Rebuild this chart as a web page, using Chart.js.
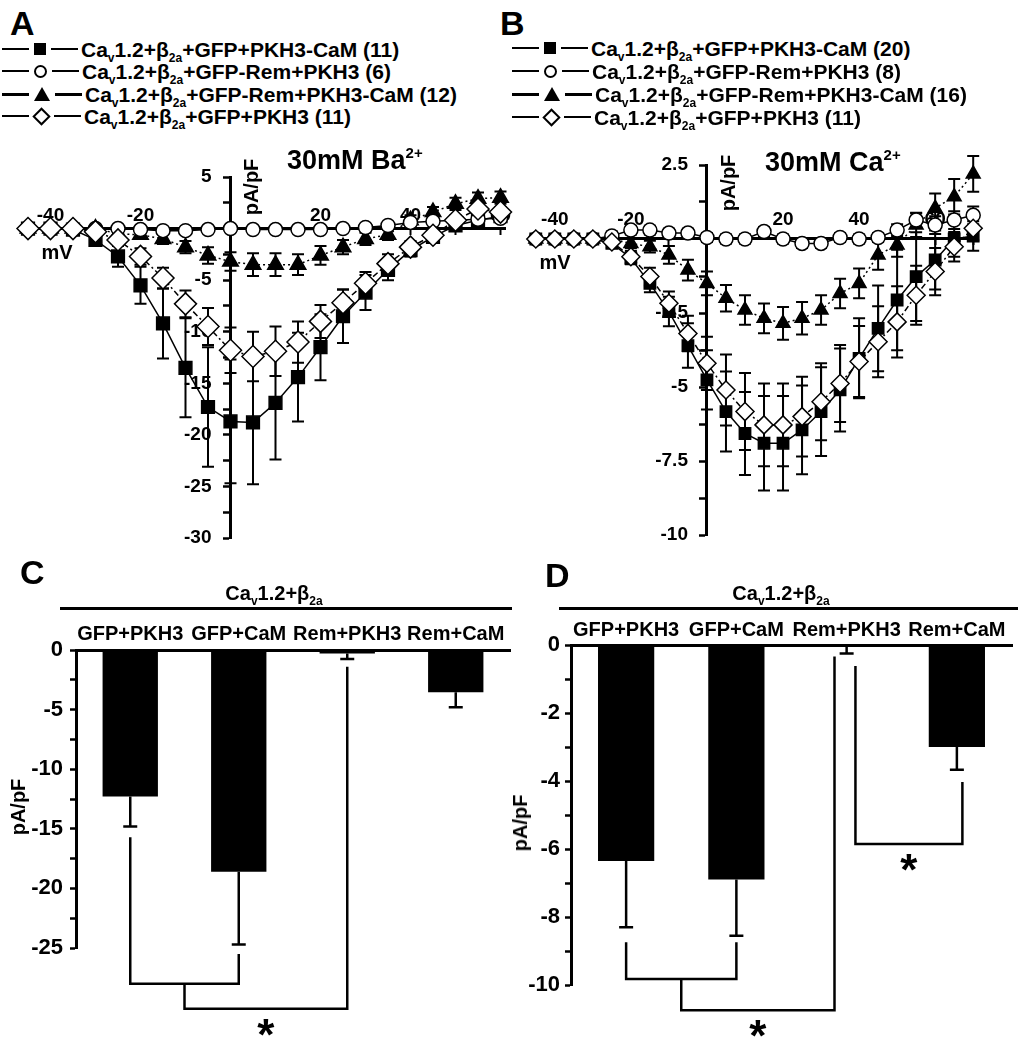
<!DOCTYPE html>
<html>
<head>
<meta charset="utf-8">
<title>Cav1.2 currents</title>
<script src="https://cdn.jsdelivr.net/npm/chart.js@4.4.1/dist/chart.umd.min.js"></script>
<style>
  body { margin: 0; background: #fff; }
  #fig { position: relative; width: 1023px; height: 1050px; overflow: hidden;
         font-family: "Liberation Sans", Arial, sans-serif; font-weight: bold; color: #000; }
  #fig canvas { position: absolute; }
  .t { position: absolute; white-space: nowrap; line-height: 1; }
  .letter { font-size: 34px; }
  .rot { transform: translate(-50%, -50%) rotate(-90deg); font-size: 20px; }
  .mv { transform: translate(-50%, -50%); font-size: 20px; }
  .leg { position: absolute; height: 22px; display: flex; align-items: center; font-size: 21px; white-space: nowrap; line-height: 1; }
  .leg .ln { width: 27px; height: 2px; background: #000; }
  .leg .ln.thick { height: 3px; }
  .leg .mk { margin: 0 5px; }
  .leg .txt { margin-left: 3px; }
  sub { font-size: 12px; vertical-align: -5px; line-height: 0; }
  sup { font-size: 15px; vertical-align: 11px; line-height: 0; }
  .sq { width: 12px; height: 12px; background: #000; }
  .ci { width: 13px; height: 13px; border: 2px solid #000; border-radius: 50%; box-sizing: border-box; }
  .tr { width: 0; height: 0; border-left: 8px solid transparent; border-right: 8px solid transparent; border-bottom: 14px solid #000; }
  .di { width: 13px; height: 13px; border: 2px solid #000; box-sizing: border-box; transform: rotate(45deg); }
  .leg .mk.di { margin: 0 6px; }
  .hl { position: absolute; height: 3px; background: #000; }
  .grp { transform: translateX(-50%); font-size: 20px; }
</style>
</head>
<body>
<div id="fig">
  <canvas id="cA" width="520" height="420" style="left:0;top:140px"></canvas>
  <canvas id="cB" width="508" height="420" style="left:515px;top:140px"></canvas>
  <canvas id="cC" width="520" height="490" style="left:0;top:560px"></canvas>
  <canvas id="cD" width="508" height="490" style="left:515px;top:560px"></canvas>

  <div class="t letter" style="left:10px;top:6px">A</div>
  <div class="t letter" style="left:500px;top:6px">B</div>
  <div class="t letter" style="left:20px;top:555px">C</div>
  <div class="t letter" style="left:545px;top:558px">D</div>

  <div class="leg" style="left:2px;top:38px"><div class="ln"></div><div class="mk sq"></div><div class="ln"></div><span class="txt">Ca<sub>v</sub>1.2+β<sub>2a</sub>+GFP+PKH3-CaM (11)</span></div>
  <div class="leg" style="left:2px;top:60px"><div class="ln"></div><div class="mk ci"></div><div class="ln"></div><span class="txt">Ca<sub>v</sub>1.2+β<sub>2a</sub>+GFP-Rem+PKH3 (6)</span></div>
  <div class="leg" style="left:2px;top:83px"><div class="ln thick"></div><div class="mk tr"></div><div class="ln thick"></div><span class="txt">Ca<sub>v</sub>1.2+β<sub>2a</sub>+GFP-Rem+PKH3-CaM (12)</span></div>
  <div class="leg" style="left:2px;top:105px"><div class="ln"></div><div class="mk di"></div><div class="ln"></div><span class="txt">Ca<sub>v</sub>1.2+β<sub>2a</sub>+GFP+PKH3 (11)</span></div>

  <div class="leg" style="left:512px;top:37px"><div class="ln"></div><div class="mk sq"></div><div class="ln"></div><span class="txt">Ca<sub>v</sub>1.2+β<sub>2a</sub>+GFP+PKH3-CaM (20)</span></div>
  <div class="leg" style="left:512px;top:60px"><div class="ln"></div><div class="mk ci"></div><div class="ln"></div><span class="txt">Ca<sub>v</sub>1.2+β<sub>2a</sub>+GFP-Rem+PKH3 (8)</span></div>
  <div class="leg" style="left:512px;top:83px"><div class="ln thick"></div><div class="mk tr"></div><div class="ln thick"></div><span class="txt">Ca<sub>v</sub>1.2+β<sub>2a</sub>+GFP-Rem+PKH3-CaM (16)</span></div>
  <div class="leg" style="left:512px;top:106px"><div class="ln"></div><div class="mk di"></div><div class="ln"></div><span class="txt">Ca<sub>v</sub>1.2+β<sub>2a</sub>+GFP+PKH3 (11)</span></div>

  <div class="t" style="left:287px;top:147px;font-size:27px">30mM Ba<sup>2+</sup></div>
  <div class="t" style="left:765px;top:149px;font-size:27px">30mM Ca<sup>2+</sup></div>
  <div class="t rot" style="left:251px;top:187px">pA/pF</div>
  <div class="t rot" style="left:728px;top:183px">pA/pF</div>
  <div class="t mv" style="left:57px;top:252px">mV</div>
  <div class="t mv" style="left:555px;top:262px">mV</div>

  <div class="t grp" style="left:274px;top:583px">Ca<sub>v</sub>1.2+β<sub>2a</sub></div>
  <div class="t grp" style="left:781px;top:583px">Ca<sub>v</sub>1.2+β<sub>2a</sub></div>
  <div class="hl" style="left:60px;top:607px;width:452px"></div>
  <div class="hl" style="left:559px;top:607px;width:459px"></div>
  <div class="t rot" style="left:18px;top:807px">pA/pF</div>
  <div class="t rot" style="left:520px;top:823px">pA/pF</div>
</div>

<script>
// ---- panel A : 30 mM Ba2+ (mV vs pA/pF) ----
const A_volt = [-45, -40, -35, -30, -25, -20, -15, -10, -5, 0, 5, 10, 15, 20, 25, 30, 35, 40, 45, 50, 55, 60];
const A_sq     = [0, 0, -0.1, -1.1, -2.7, -5.5, -9.2, -13.5, -17.3, -18.7, -18.8, -16.9, -14.4, -11.5, -8.5, -6.2, -4.0, -2.1, -0.8, 0.3, 0.8, 1.2];
const A_sqErr  = [0.2, 0.2, 0.3, 0.5, 1.0, 1.8, 3.4, 4.8, 5.8, 6.0, 6.0, 5.5, 4.3, 3.2, 2.6, 1.7, 1.0, 0.6, 0.5, 0.5, 0.5, 0.5];
const A_cir    = [0, 0, 0, 0, 0, -0.1, -0.2, -0.2, -0.1, 0, -0.1, -0.1, -0.1, -0.1, 0, 0.1, 0.3, 0.6, 0.7, 0.8, 0.9, 1.0];
const A_cirErr = [0.3, 0.3, 0.3, 0.3, 0.3, 0.3, 0.3, 0.3, 0.3, 0.3, 0.3, 0.3, 0.3, 0.3, 0.3, 0.3, 0.3, 0.3, 0.3, 0.3, 0.3, 0.3];
const A_tri    = [0, 0, 0, 0, -0.5, -0.6, -1.0, -1.8, -2.6, -3.2, -3.5, -3.5, -3.5, -2.6, -1.8, -1.0, -0.6, 0.8, 1.6, 2.4, 2.9, 3.0];
const A_triErr = [0.1, 0.1, 0.2, 0.2, 0.3, 0.4, 0.5, 0.6, 0.8, 0.9, 1.1, 1.1, 1.0, 0.9, 0.7, 0.6, 0.5, 0.5, 0.5, 0.6, 0.6, 0.6];
const A_dia    = [0, 0, 0, -0.3, -1.1, -2.7, -4.8, -7.3, -9.5, -11.8, -12.4, -11.9, -11.0, -9.0, -7.2, -5.3, -3.4, -1.8, -0.65, 0.8, 1.9, 1.6];
const A_diaErr = [0.2, 0.2, 0.2, 0.3, 0.5, 0.8, 1.0, 1.3, 1.8, 2.2, 2.4, 2.4, 2.0, 1.6, 1.3, 1.1, 0.9, 0.6, 0.5, 0.5, 0.5, 0.5];

// ---- panel B : 30 mM Ca2+ ----
const B_volt = [-45, -40, -35, -30, -25, -20, -15, -10, -5, 0, 5, 10, 15, 20, 25, 30, 35, 40, 45, 50, 55, 60, 65, 70];
const B_sq     = [0, 0, 0, 0, -0.15, -0.65, -1.5, -2.45, -3.6, -4.76, -5.83, -6.57, -6.9, -6.9, -6.45, -5.83, -5.1, -4.03, -3.02, -2.06, -1.27, -0.71, 0, 0.1];
const B_sqErr  = [0.1, 0.1, 0.1, 0.1, 0.15, 0.2, 0.3, 0.5, 0.75, 1.0, 1.35, 1.4, 1.6, 1.6, 1.5, 1.5, 1.4, 1.35, 1.45, 1.7, 1.5, 1.0, 0.6, 0.5];
const B_cir    = [0, 0, 0, 0, 0.1, 0.3, 0.3, 0.2, 0.2, 0.05, 0, 0, 0.25, 0, -0.15, -0.15, 0.05, 0, 0.05, 0.3, 0.64, 0.47, 0.64, 0.8];
const B_cirErr = [0.15, 0.15, 0.15, 0.15, 0.15, 0.15, 0.15, 0.15, 0.15, 0.15, 0.15, 0.15, 0.15, 0.15, 0.15, 0.15, 0.15, 0.15, 0.15, 0.2, 0.25, 0.3, 0.3, 0.3];
const B_tri    = [0, 0, 0, 0, 0, -0.15, -0.26, -0.54, -1.05, -1.5, -2.0, -2.4, -2.68, -2.85, -2.68, -2.4, -1.84, -1.5, -0.54, -0.2, 0.47, 1.04, 1.43, 2.2];
const B_triErr = [0.1, 0.1, 0.1, 0.1, 0.1, 0.15, 0.2, 0.3, 0.35, 0.4, 0.45, 0.5, 0.5, 0.55, 0.55, 0.5, 0.5, 0.5, 0.5, 0.4, 0.4, 0.5, 0.6, 0.6];
const B_dia    = [0, 0, 0, 0, -0.1, -0.6, -1.27, -2.17, -3.19, -4.2, -5.1, -5.83, -6.28, -6.28, -6.0, -5.5, -4.88, -4.14, -3.47, -2.8, -1.9, -1.1, -0.26, 0.36];
const B_diaErr = [0.1, 0.1, 0.1, 0.1, 0.15, 0.2, 0.3, 0.4, 0.6, 0.9, 1.2, 1.3, 1.4, 1.4, 1.35, 1.3, 1.3, 1.2, 1.2, 1.2, 1.0, 0.8, 0.5, 0.4];

// ---- panels C / D : peak current bars ----
const groups = ['GFP+PKH3', 'GFP+CaM', 'Rem+PKH3', 'Rem+CaM'];
const C_val = [-12.3, -18.6, -0.3, -3.55];
const C_err = [2.5, 6.1, 0.45, 1.25];
const D_val = [-6.35, -6.9, -0.05, -3.0];
const D_err = [1.95, 1.65, 0.2, 0.67];
// significance brackets (x in category index, y in pA/pF)
const C_brackets = [
  { from: 0, to: 1, fromTop: -15.7, toTop: -25.5, level: -28 },
  { from: 0.5, to: 2, fromTop: -28, toTop: -1.4, level: -30.1, star: true }
];
const D_brackets = [
  { from: 0, to: 1, fromTop: -8.74, toTop: -8.74, level: -9.82 },
  { from: 0.5, to: 1.89, fromTop: -9.82, toTop: -0.34, level: -10.74, star: true },
  { from: 2.08, to: 3.05, fromTop: -0.62, toTop: -4.03, level: -5.85, star: true }
];

Chart.defaults.font.family = '"Liberation Sans", Arial, sans-serif';
Chart.defaults.font.weight = 'bold';
Chart.defaults.color = '#000';

// vertical SEM bars, under the markers for IV plots, over the bars for bar plots
function drawErrors(chart) {
  const ctx = chart.ctx, ys = chart.scales.y;
  ctx.save();
  ctx.strokeStyle = '#000';
  chart.data.datasets.forEach((ds, i) => {
    if (!ds.errors) return;
    const meta = chart.getDatasetMeta(i);
    ctx.lineWidth = ds.errWidth || 2;
    const cap = ds.capWidth || 5;
    meta.data.forEach((el, j) => {
      const d = ds.data[j];
      const v = typeof d === 'object' ? d.y : d;
      const e = ds.errors[j];
      const x = el.x;
      const lo = ys.getPixelForValue(v - e);
      const hi = ys.getPixelForValue(ds.downOnly ? v : v + e);
      ctx.beginPath();
      ctx.moveTo(x, hi); ctx.lineTo(x, lo);
      ctx.moveTo(x - cap, lo); ctx.lineTo(x + cap, lo);
      if (!ds.downOnly) { ctx.moveTo(x - cap, hi); ctx.lineTo(x + cap, hi); }
      ctx.stroke();
    });
  });
  ctx.restore();
}
const errorBars = {
  id: 'errorBars',
  beforeDatasetsDraw(chart) { if (chart.config.type === 'line') drawErrors(chart); },
  afterDatasetsDraw(chart) { if (chart.config.type === 'bar') drawErrors(chart); }
};

const brackets = {
  id: 'brackets',
  afterDatasetsDraw(chart, args, opts) {
    const items = opts.items || [];
    const xs = chart.scales.x, ys = chart.scales.y, ctx = chart.ctx;
    ctx.save();
    ctx.lineWidth = 2.5;
    ctx.strokeStyle = '#000';
    ctx.fillStyle = '#000';
    items.forEach(b => {
      const x1 = xs.getPixelForValue(b.from), x2 = xs.getPixelForValue(b.to);
      const yb = ys.getPixelForValue(b.level);
      ctx.beginPath();
      ctx.moveTo(x1, ys.getPixelForValue(b.fromTop));
      ctx.lineTo(x1, yb);
      ctx.lineTo(x2, yb);
      ctx.lineTo(x2, ys.getPixelForValue(b.toTop));
      ctx.stroke();
      if (b.star) {
        ctx.font = 'bold 44px "Liberation Sans"';
        ctx.textAlign = 'center';
        ctx.textBaseline = 'alphabetic';
        ctx.fillText('*', (x1 + x2) / 2, yb + 41);
      }
    });
    ctx.restore();
  }
};

function series(volt, vals, errs, style, big) {
  const s = {
    sq:  { pointStyle: 'rect', bg: '#000', r: big ? 9 : 8, dash: [] },
    cir: { pointStyle: 'circle', bg: '#fff', r: 7, dash: [] },
    tri: { pointStyle: 'triangle', bg: '#000', r: big ? 9 : 8, dash: [2, 3] },
    dia: { pointStyle: 'rectRot', bg: '#fff', r: big ? 11 : 9, dash: [6, 3, 2, 3] }
  }[style];
  return {
    data: volt.map((v, i) => ({ x: v, y: vals[i] })),
    errors: errs,
    capWidth: 6,
    errWidth: 2,
    showLine: true,
    borderColor: '#000',
    borderWidth: 1.5,
    borderDash: s.dash,
    pointStyle: s.pointStyle,
    pointRadius: s.r,
    pointBackgroundColor: s.bg,
    pointBorderColor: '#000',
    pointBorderWidth: 1.5,
    tension: 0,
    clip: false
  };
}

function ivChart(id, datasets, xr, yr, pad, yStep, yLabelOk, xLabelPad) {
  return new Chart(document.getElementById(id), {
    type: 'line',
    data: { datasets: datasets },
    options: {
      responsive: false,
      animation: false,
      devicePixelRatio: 1,
      layout: { padding: pad },
      plugins: { legend: { display: false }, tooltip: { enabled: false } },
      scales: {
        x: {
          type: 'linear', min: xr[0], max: xr[1],
          position: { y: 0 },
          afterFit: s => { s.height = 0; },
          border: { display: true, width: 3, color: '#000' },
          grid: { drawOnChartArea: false, drawTicks: true, tickLength: 5, tickWidth: 2, tickColor: '#000' },
          ticks: {
            stepSize: 10, includeBounds: false, autoSkip: false, maxRotation: 0,
            padding: xLabelPad, font: { size: 19, weight: 'bold' },
            callback: v => (v % 20 === 0 && v !== 0) ? String(v) : ''
          }
        },
        y: {
          type: 'linear', min: yr[0], max: yr[1],
          position: { x: 0 },
          afterFit: s => { s.width = 0; },
          border: { display: true, width: 3, color: '#000' },
          grid: { drawOnChartArea: false, drawTicks: true, tickLength: 6, tickWidth: 2.5, tickColor: '#000' },
          ticks: {
            stepSize: yStep, autoSkip: false, padding: 4, font: { size: 19, weight: 'bold' },
            callback: v => yLabelOk(v) ? String(v) + '\u2002\u2002' : ''
          }
        }
      }
    },
    plugins: [errorBars]
  });
}

ivChart('cA', [
  series(A_volt, A_dia, A_diaErr, 'dia', true),
  series(A_volt, A_cir, A_cirErr, 'cir', true),
  series(A_volt, A_tri, A_triErr, 'tri', true),
  series(A_volt, A_sq, A_sqErr, 'sq', true)
], [-46, 61], [-30, 5], { left: 23.5, right: 15, top: 37, bottom: 22 }, 2.5,
  v => v % 5 === 0 && v !== 0, -29);

ivChart('cB', [
  series(B_volt, B_dia, B_diaErr, 'dia', false),
  series(B_volt, B_cir, B_cirErr, 'cir', false),
  series(B_volt, B_tri, B_triErr, 'tri', false),
  series(B_volt, B_sq, B_sqErr, 'sq', false)
], [-46, 71], [-10, 2.5], { left: 17, right: 46, top: 25, bottom: 25 }, 1.25,
  v => Math.abs(v / 2.5 - Math.round(v / 2.5)) < 1e-6 && v !== 0, -36);

// axisW / axisH fix the left and top axis boxes so the plot area lands where the figure has it
function barChart(id, values, errs, ymin, yStep, yLabelOk, axisW, axisH, pad, items, catPad, yPad) {
  return new Chart(document.getElementById(id), {
    type: 'bar',
    data: {
      labels: groups,
      datasets: [{
        data: values,
        errors: errs,
        downOnly: true,
        capWidth: 7,
        errWidth: 2.5,
        backgroundColor: '#000',
        borderWidth: 0,
        barPercentage: 0.51,
        categoryPercentage: 1
      }]
    },
    options: {
      responsive: false,
      animation: false,
      devicePixelRatio: 1,
      layout: { padding: pad },
      plugins: { legend: { display: false }, tooltip: { enabled: false }, brackets: { items: items } },
      scales: {
        x: {
          position: 'top',
          afterFit: s => { s.height = axisH; },
          border: { display: true, width: 3, color: '#000' },
          grid: { display: false, drawTicks: false },
          ticks: { padding: catPad, font: { size: 20, weight: 'bold' }, autoSkip: false, maxRotation: 0 }
        },
        y: {
          min: ymin, max: 0,
          position: 'left',
          afterFit: s => { s.width = axisW; },
          border: { display: true, width: 3, color: '#000' },
          grid: { drawOnChartArea: false, drawTicks: true, tickLength: 6, tickWidth: 2.5, tickColor: '#000' },
          ticks: {
            stepSize: yStep, autoSkip: false, padding: yPad, font: { size: 22, weight: 'bold' },
            callback: v => yLabelOk(v) ? String(v) : ''
          }
        }
      }
    },
    plugins: [errorBars, brackets]
  });
}

barChart('cC', C_val, C_err, -25, 2.5, v => v % 5 === 0, 76, 90,
  { left: 0, right: 10, top: 0, bottom: 102 }, C_brackets, 4, 7);
barChart('cD', D_val, D_err, -10, 1, v => v % 2 === 0, 56, 85,
  { left: 0, right: 11, top: 0, bottom: 65 }, D_brackets, 3, 5);
</script>
</body>
</html>
